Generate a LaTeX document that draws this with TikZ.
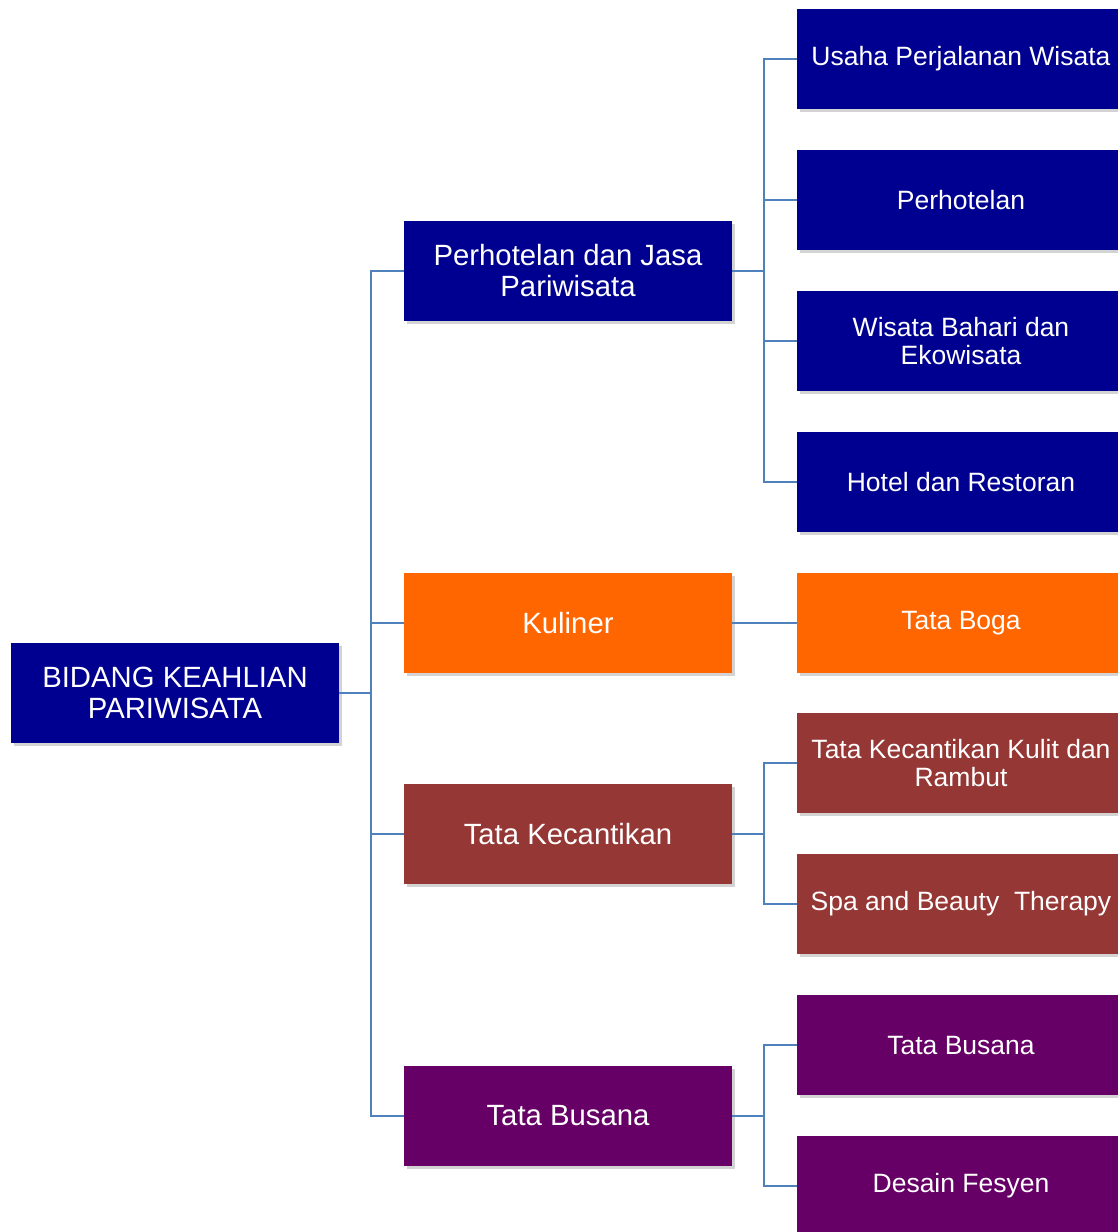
\documentclass[tikz,border=0pt]{standalone}
\usepackage{fontspec}
\setmainfont{Liberation Sans}
\usepackage{xcolor}
\usetikzlibrary{positioning,shadows}

\definecolor{navy}{HTML}{000090}
\definecolor{oranye}{HTML}{FF6600}
\definecolor{coklat}{HTML}{953735}
\definecolor{ungu}{HTML}{660066}
\definecolor{garis}{HTML}{4F81BD}

\begin{document}
\begin{tikzpicture}[x=1pt, y=-1pt,
    box/.style={rectangle, minimum width=328pt, minimum height=100pt, inner sep=0pt,
        text=white, align=center, drop shadow={opacity=0.35, shadow xshift=3pt, shadow yshift=-3pt}},
    big/.style={box, font=\fontsize{29.3}{31}\selectfont},
    small/.style={box, font=\fontsize{26.5}{28}\selectfont},
    link/.style={draw=garis, line width=1.6pt}]
    \useasboundingbox (0,0) rectangle (1118,1232);
    % root
    \node [big, fill=navy] (root) at (175,693) {BIDANG KEAHLIAN\\PARIWISATA};
    % level 1
    \node [big, fill=navy] (jasa) at (568,271) {Perhotelan dan Jasa\\Pariwisata};
    \node [big, fill=oranye] (kul) at (568,623) {Kuliner};
    \node [big, fill=coklat] (cantik) at (568,834) {Tata Kecantikan};
    \node [big, fill=ungu] (busana) at (568,1116) {Tata Busana};
    % level 2
    \node [small, fill=navy] (upw) at (961,59) {Usaha Perjalanan Wisata};
    \node [small, fill=navy] (hotel) at (961,200) {Perhotelan};
    \node [small, fill=navy] (bahari) at (961,341) {Wisata Bahari dan\\Ekowisata};
    \node [small, fill=navy] (resto) at (961,482) {Hotel dan Restoran};
    \node [small, fill=oranye] (boga) at (961,623) {Tata Boga};
    \node [small, fill=coklat] (kulit) at (961,763) {Tata Kecantikan Kulit dan\\Rambut};
    \node [small, fill=coklat] (spa) at (961,904) {Spa and Beauty\ \ Therapy};
    \node [small, fill=ungu] (tbus) at (961,1045) {Tata Busana};
    \node [small, fill=ungu] (fesyen) at (961,1186) {Desain Fesyen};
    % connectors
    \foreach \n in {jasa,kul,cantik,busana}
        \draw [link] (root.east) -- ++(32,0) |- (\n.west);
    \foreach \n in {upw,hotel,bahari,resto}
        \draw [link] (jasa.east) -- ++(32,0) |- (\n.west);
    \draw [link] (kul.east) -- (boga.west);
    \foreach \n in {kulit,spa}
        \draw [link] (cantik.east) -- ++(32,0) |- (\n.west);
    \foreach \n in {tbus,fesyen}
        \draw [link] (busana.east) -- ++(32,0) |- (\n.west);
\end{tikzpicture}
\end{document}
